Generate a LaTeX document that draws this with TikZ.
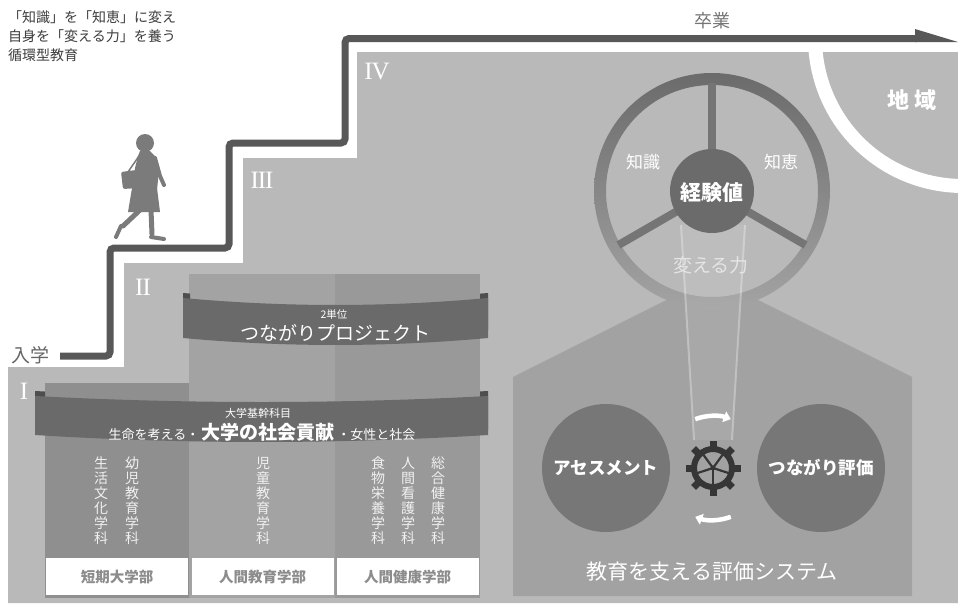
\documentclass[tikz,border=0pt]{standalone}
\usepackage{fontspec}
\newfontfamily\jp{Noto Sans CJK JP}
\newfontfamily\romanfont{Liberation Serif}
\usetikzlibrary{arrows.meta,calc}

\definecolor{stairline}{HTML}{585858}
\definecolor{stepfill}{HTML}{B9B9B9}
\definecolor{roof}{HTML}{A2A2A2}
\definecolor{band}{HTML}{6A6A6A}
\definecolor{bandback}{HTML}{4E4E4E}
\definecolor{disc}{HTML}{777777}
\definecolor{cog}{HTML}{363636}
\definecolor{walker}{HTML}{7B7B7B}

\tikzset{
  jp/.style={font=\jp\fontsize{#1}{#1}\selectfont, inner sep=0pt},
  numeral/.style={text=white, font=\romanfont\fontsize{25}{25}\selectfont, inner sep=0pt},
  vlabel/.style={text=white!94!black, align=center, font=\jp\fontsize{14}{15}\selectfont, inner sep=0pt},
  deptbox/.style={fill=white, minimum width=142pt, minimum height=37pt, inner sep=0pt,
    text=black!45, font=\jp\bfseries\fontsize{14.5}{14.5}\selectfont},
  discnode/.style={circle, fill=disc, minimum size=128pt, inner sep=0pt, text=white,
    font=\jp\bfseries\fontsize{17.5}{17.5}\selectfont},
  spoke/.style={line width=8pt, draw=black!54},
  curlarrow/.style={white, line width=4.5pt, -{Triangle[length=7pt,width=11pt]}},
}

\begin{document}
\begin{tikzpicture}[x=1pt,y=-1pt]
\useasboundingbox (0,0) rectangle (958,605);
\fill[white] (0,0) rectangle (958,605);

% steps
\fill[stepfill] (8,603) -- (8,367) -- (124,367) -- (124,263) -- (243,263) -- (243,158)
  -- (357,158) -- (357,52) -- (958,52) -- (958,603) -- cycle;
\node[numeral] (stage1) at (24,391) {I};
\node[numeral] (stage2) at (143,287) {I\kern-1ptI};
\node[numeral] (stage3) at (262,180) {I\kern-1ptI\kern-1ptI};
\node[numeral] (stage4) at (377,72) {I\kern-1ptV};

% region
\draw[white, line width=14pt] (963,38) ++(180:148pt) arc (180:272:148pt);
\node[jp=22, text=white, font=\jp\bfseries\fontsize{22}{22}\selectfont] (chiiki) at (912,100) {地\hspace{5pt}域};

% faculties
\fill[black!44] (45,383) rectangle (189,598);
\fill[black!36] (189,274) rectangle (335,598);
\fill[black!40] (335,274) rectangle (480,598);

\node[vlabel] (seikatsu) at (101,501) {生\\活\\文\\化\\学\\科};
\node[vlabel] (youji) at (132,501) {幼\\児\\教\\育\\学\\科};
\node[vlabel] (jido) at (263,501) {児\\童\\教\\育\\学\\科};
\node[vlabel] (shokumotsu) at (378,501) {食\\物\\栄\\養\\学\\科};
\node[vlabel] (kango) at (408,501) {人\\間\\看\\護\\学\\科};
\node[vlabel] (sogo) at (438,501) {総\\合\\健\\康\\学\\科};

\node[deptbox] (tanki) at (117,576.5) {短期大学部};
\node[deptbox] (kyoiku) at (262.5,576.5) {人間教育学部};
\node[deptbox] (kenko) at (407.5,576.5) {人間健康学部};

% bands
\begin{scope}
  \clip (178,280) rectangle (190,340) (480,280) rectangle (495,340);
  \fill[bandback] (183,293) .. controls (284.7,301) and (386.3,301) .. (488,293) -- (488,330) -- (183,330) -- cycle;
\end{scope}
\fill[band] (183,298) .. controls (284.7,307.3) and (386.3,307.3) .. (488,298) -- (488,338)
  .. controls (386.3,347.3) and (284.7,347.3) .. (183,338) -- cycle;
\node[jp=10.5, text=white] (tani) at (334,315) {2単位};
\node[jp=19, text=white] (project) at (335,333) {つながりプロジェクト};

\begin{scope}
  \clip (30,380) rectangle (45,450) (480,380) rectangle (495,450);
  \fill[bandback] (35,391) .. controls (186,399) and (337,399) .. (488,391) -- (488,430) -- (35,430) -- cycle;
\end{scope}
\fill[band] (35,396) .. controls (186,404) and (337,404) .. (488,396) -- (488,435)
  .. controls (337,444.3) and (186,444.3) .. (35,435) -- cycle;
\node[jp=11, text=white] (kikan) at (258,413) {大学基幹科目};
\node[inner sep=0pt, text=white] (kamoku) at (262,432)
  {\jp\fontsize{13}{13}\selectfont 生命を考える・\hspace{2pt}{\bfseries\fontsize{19}{19}\selectfont 大学の社会貢献}\hspace{3pt}・女性と社会};

% evaluation house
\coordinate (hub) at (712,191);
\begin{scope}[even odd rule]
  \clip (500,250) rectangle (930,600) (hub) circle (112pt);
  \fill[roof] (513,596) -- (513,377) -- (712,277) -- (912,377) -- (912,596) -- cycle;
\end{scope}

% wheel
\shade[top color=black!58, bottom color=black!36, even odd rule] (hub) circle (118pt) (hub) circle (106pt);
\foreach \a in {90,210,330}
  \draw[spoke] ($(hub)+(\a:40pt)$) -- ($(hub)+(\a:108pt)$);
\fill[white, opacity=0.07] (681,225) -- (745,225) -- (732,440) -- (694,440) -- cycle;
\draw[white, opacity=0.3, line width=2pt] (681,225) -- (694,440) (745,225) -- (732,440);
\fill[black!58] (hub) circle (42pt);
\node[text=white, font=\jp\bfseries\fontsize{21}{21}\selectfont, inner sep=0pt] (keiken) at (712,193) {経験値};
\node[jp=17, text=white] (chishiki) at (643,162) {知識};
\node[jp=17, text=white] (chie) at (781,162) {知恵};
\node[jp=19, text=white!90!black] (kaeru) at (711,265) {変える力};

\node[discnode] (assess) at (606,468) {アセスメント};
\node[discnode] (tsunagari) at (821,468) {つながり評価};

% gear
\coordinate (gear) at (713,468);
\foreach \a in {0,45,...,315}
  \fill[cog, rotate around={\a:(gear)}] ($(gear)+(-3.5pt,18pt)$) rectangle ($(gear)+(3.5pt,27.5pt)$);
\draw[cog, line width=6pt] (gear) circle (19pt);
\foreach \a in {54,126,198,270,342}
  \draw[cog, line width=2.2pt] (gear) -- ($(gear)+(\a:17pt)$);
\fill[cog] (gear) circle (2.5pt);
\draw[curlarrow] ($(gear)+(110:52pt)$) arc (110:70:52pt);
\draw[curlarrow] ($(gear)+(-70:52pt)$) arc (-70:-110:52pt);

\node[jp=21, text=white] (system) at (712,572) {教育を支える評価システム};

% staircase
\draw[stairline, line width=7pt, rounded corners=4pt] (60,356) -- (110,356) -- (110,248) -- (229,248)
  -- (229,143) -- (345,143) -- (345,38.5) -- (917,38.5);
\fill[stairline] (915,29) -- (958,42) -- (915,42) -- cycle;
\node[jp=19, text=black!60] (nyugaku) at (30,355) {入学};
\node[jp=18, text=black!54] (sotsugyo) at (712,21) {卒業};

% walker
\fill[walker] (145,143) circle (9pt);
\fill[walker] (140,151) -- (150,151) -- (155,156) -- (159,170) -- (157,190) -- (132,190) -- (135,168) -- (138,156) -- cycle;
\draw[walker, line width=4pt, line cap=round] (155,158) -- (160,176) -- (164,185);
\draw[walker, line width=1.5pt] (139,156) -- (128,172);
\fill[walker, rounded corners=2pt] (121,172) -- (136,170) -- (138,188) -- (123,189) -- cycle;
\fill[walker] (132,188) -- (157,188) -- (160,212) -- (128,212) -- cycle;
\draw[walker, line width=5pt, line cap=round] (140,210) -- (123,226);
\draw[walker, line width=4pt, line cap=round] (121,226) -- (116,237);
\draw[walker, line width=5pt, line cap=round] (151,210) -- (152,234);
\draw[walker, line width=4pt, line cap=round] (151,237) -- (164,239);

\node[anchor=west, align=left, text=black!76, font=\jp\fontsize{14}{19}\selectfont, inner sep=0pt] (motto) at (8,36)
  {「知識」を「知恵」に変え\\自身を「変える力」を養う\\循環型教育};
\end{tikzpicture}
\end{document}
